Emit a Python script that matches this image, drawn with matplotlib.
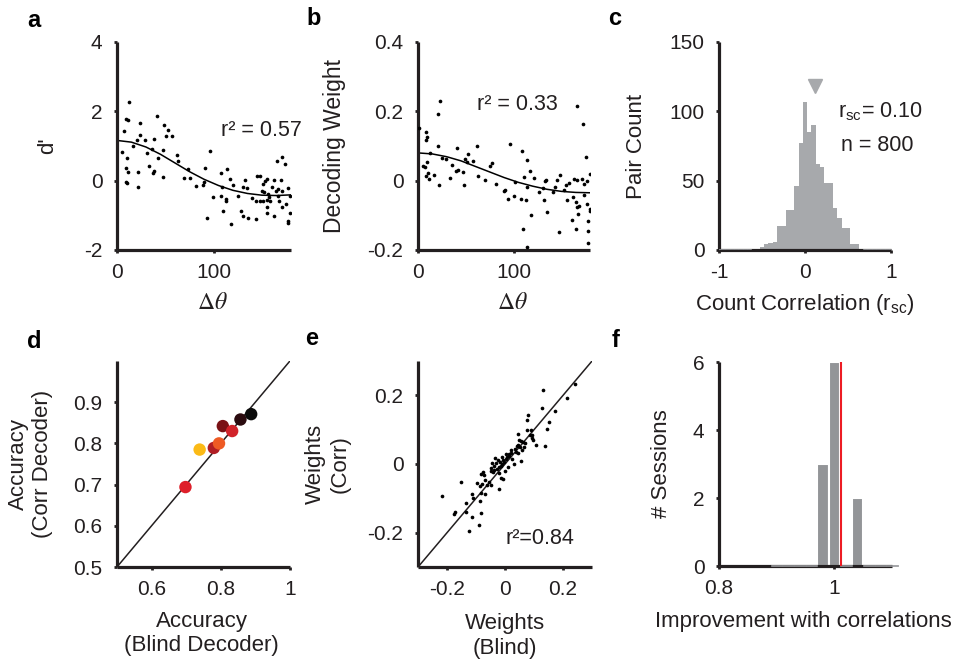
import numpy as np
import matplotlib
matplotlib.use("Agg")
import matplotlib.pyplot as plt
from matplotlib.patches import Rectangle

plt.rcParams['font.family'] = ['Liberation Sans', 'DejaVu Sans']
plt.rcParams['font.size'] = 15
plt.rcParams['axes.unicode_minus'] = False
plt.rcParams['mathtext.fontset'] = 'custom'
plt.rcParams['mathtext.rm'] = 'Liberation Sans'
plt.rcParams['mathtext.it'] = 'Liberation Sans:italic'
plt.rcParams['mathtext.bf'] = 'Liberation Sans:bold'

INK = '#231F20'
LABEL_FS = 16

# ---------------- data ----------------
# panel a: d' vs delta theta
a_theta = [12.5, 9.0, 11.1, 41.0, 24.0, 48.3, 52.4, 7.3, 50.7, 56.6, 23.6, 20.5, 29.2, 37.8,
           17.0, 36.1, 47.2, 30.6, 5.6, 42.0, 61.8, 62.8, 10.8, 33.3, 9.0, 11.1, 38.5, 36.8,
           21.9, 74.0, 90.6, 47.6, 69.8, 76.0, 95.8, 9.0, 10.8, 22.2, 81.3, 88.9, 89.9, 108.0,
           113.9, 108.7, 116.7, 120.1, 99.3, 107.3, 112.5, 112.5, 125.3, 129.9, 132.3, 134.0,
           139.9, 144.4, 147.9, 151.4, 153.1, 154.9, 149.7, 152.4, 143.4, 147.9, 151.4, 154.9,
           158.3, 155.9, 157.3, 160.1, 162.8, 164.2, 167.0, 169.4, 170.5, 165.3, 171.2, 174.0,
           166.3, 167.7, 176.7, 179.2, 174.7, 154.9, 154.9, 162.8, 170.5, 109.7, 128.8, 130.6,
           135.1, 143.8, 93.4, 117.7, 176.7, 176.7, 179.2]
a_dprime = [2.27, 1.78, 1.74, 1.86, 1.66, 1.61, 1.47, 1.43, 1.29, 1.28, 1.32, 1.18, 1.16, 1.20,
            1.01, 0.90, 0.89, 0.79, 0.82, 0.65, 0.73, 0.56, 0.65, 0.41, 0.37, 0.25, 0.29, 0.23,
            0.25, 0.33, 0.37, 0.10, 0.07, 0.07, 0.85, -0.05, -0.06, -0.19, -0.15, -0.13, -0.05, 0.21,
            0.35, -0.17, 0.04, -0.13, -0.48, -0.43, -0.54, -0.60, -0.43, -0.19, 0.02, -0.21,
            -0.50, 0.12, 0.14, -0.10, 0.00, 0.05, -0.29, -0.34, -0.58, -0.58, -0.58, -0.56,
            -0.58, -0.39, -0.48, -0.19, 0.02, -0.31, -0.24, 0.02, -0.29, 0.58, 0.68, 0.48,
            -0.43, -0.60, -0.22, -0.43, -0.68, -0.77, -0.92, -1.01, -0.77, -0.87, -0.89, -1.01,
            -1.09, -1.11, -1.08, -1.24, -1.16, -1.21, -0.92]
fit_theta = [0, 15, 30, 45, 60, 75, 90, 105, 120, 135, 150, 165, 180]
a_fit = [1.16, 1.11, 0.97, 0.76, 0.51, 0.26, 0.04, -0.14, -0.28, -0.37, -0.42, -0.43, -0.41]

# panel b: decoding weight vs delta theta
b_theta = [22.8, 20.4, 166.7, 172.6, 0.7, 8.8, 9.8, 8.8, 21.1, 40.4, 61.8, 96.5, 108.8, 114.0,
           175.4, 12.3, 24.6, 29.1, 52.6, 49.1, 51.6, 57.2, 77.2, 75.8, 9.8, 7.0, 5.3, 35.8,
           42.1, 39.3, 47.4, 10.5, 8.8, 11.2, 16.8, 33.3, 21.8, 48.1, 63.2, 70.2, 81.8, 90.5,
           89.5, 101.8, 93.7, 100.4, 108.1, 110.5, 121.1, 117.5, 114.0, 113.0, 109.5, 118.2,
           114.4, 126.3, 130.9, 134.4, 133.3, 131.6, 135.1, 141.1, 143.2, 145.6, 148.4, 147.4,
           152.6, 154.4, 157.9, 156.1, 163.2, 166.0, 171.9, 173.7, 177.2, 179.6, 162.5, 164.9,
           166.7, 168.4, 167.7, 161.4, 164.9, 176.5, 179.5, 179.6, 177.9, 177.9, 178.2, 173.7]
b_weight = [0.230, 0.191, 0.215, 0.163, 0.153, 0.139, 0.126, 0.118, 0.099, 0.095, 0.100, 0.107,
            0.086, 0.059, 0.068, 0.080, 0.066, 0.063, 0.076, 0.061, 0.054, 0.057, 0.051, 0.041,
            0.054, 0.039, 0.041, 0.044, 0.032, 0.028, 0.024, 0.022, 0.013, 0.006, 0.015, 0.009,
            -0.012, -0.014, 0.013, 0.003, -0.010, -0.026, -0.030, -0.004, -0.052, -0.044, -0.053,
            0.011, 0.008, 0.028, -0.018, -0.055, -0.140, -0.100, -0.191, -0.033, -0.020, 0.003,
            -0.001, -0.055, -0.090, -0.034, -0.018, 0.001, 0.017, -0.148, -0.028, -0.013, -0.007,
            -0.057, 0.004, 0.001, 0.005, -0.009, -0.002, 0.018, -0.047, -0.062, -0.076, -0.074,
            -0.095, -0.113, -0.139, -0.066, -0.081, -0.088, -0.117, -0.146, -0.179, -0.042]
b_fit = [0.080, 0.077, 0.069, 0.057, 0.041, 0.025, 0.009, -0.005, -0.016, -0.025, -0.031, -0.034, -0.035]

# panel c: count correlation histogram (bins of 0.05 centred on multiples of 0.05)
c_centers = [-0.60, -0.55, -0.50, -0.45, -0.40, -0.35, -0.30, -0.25, -0.20, -0.15, -0.10, -0.05,
             0.00, 0.05, 0.10, 0.15, 0.20, 0.25, 0.30, 0.35, 0.40, 0.45, 0.50, 0.55, 0.60, 0.65]
c_counts = [1, 1, 2, 4, 5, 6, 17, 17, 29, 29, 46, 77, 107, 85, 90, 62, 60, 48, 48, 30, 23, 16,
            16, 4, 4, 1]
c_empty_left = [-1.0, -0.95, -0.90, -0.85, -0.80, -0.75, -0.70, -0.65]
c_empty_right = [0.70, 0.75, 0.80, 0.85, 0.90, 0.95, 1.0]
c_mean = 0.115
c_marker_y = 118

# panel d: accuracy blind vs corr decoder
d_blind = [0.698, 0.739, 0.780, 0.795, 0.806, 0.833, 0.857, 0.888]
d_corr = [0.694, 0.785, 0.789, 0.800, 0.842, 0.830, 0.858, 0.871]
d_colors = ['#DE1F2A', '#FBBA16', '#B01E24', '#EE5A24', '#7A1216', '#D1232A', '#2B0B0F', '#0B0B0B']

# panel e: weights blind vs corr
e_blind = [0.241, 0.215, 0.132, 0.129, 0.172, 0.152, 0.144, 0.138, 0.079, 0.077, 0.046, 0.075,
           0.089, 0.094, 0.098, 0.106, 0.092, 0.048, 0.056, 0.063, 0.043, 0.052, 0.060, 0.054,
           0.037, 0.045, 0.020, 0.022, 0.014, 0.008, 0.002, -0.003, -0.012, -0.006, -0.017,
           -0.026, -0.036, -0.032, -0.044, -0.038, -0.047, -0.038, -0.049, -0.040, -0.021, -0.013,
           -0.007, -0.021, -0.055, -0.061, -0.049, -0.070, -0.078, -0.086, -0.072, -0.084, -0.075,
           -0.095, -0.153, -0.084, -0.069, -0.113, -0.110, -0.136, -0.086, -0.216, -0.172, -0.176,
           -0.124, -0.090, -0.115, -0.083, -0.133, 0.010, 0.030, -0.020, 0.000, 0.025, -0.010,
           0.035, 0.070, 0.065, 0.085, -0.028, 0.015, 0.005, -0.015, 0.040]
e_corr = [0.232, 0.191, 0.216, 0.164, 0.154, 0.122, 0.102, 0.053, 0.142, 0.127, 0.087, 0.100,
          0.098, 0.085, 0.070, 0.056, 0.077, 0.069, 0.066, 0.063, 0.056, 0.049, 0.041, 0.010,
          0.036, 0.031, 0.041, 0.031, 0.022, 0.020, 0.014, 0.007, 0.020, 0.012, 0.007,
          0.012, 0.017, 0.002, 0.002, -0.006, -0.011, -0.018, -0.020, -0.023, -0.027, -0.042,
          -0.045, -0.072, -0.052, -0.062, -0.062, -0.047, -0.057, -0.065, -0.032, -0.029, -0.023,
          -0.055, -0.052, -0.084, -0.088, -0.086, -0.098, -0.114, -0.109, -0.093, -0.140, -0.147,
          -0.194, -0.177, -0.155, -0.143, -0.140, -0.010, 0.000, -0.010, -0.020, 0.015, 0.000,
          0.045, 0.060, 0.050, 0.085, -0.015, 0.028, 0.030, -0.005, 0.052]

# panel f: improvement histogram
f_centers = [0.98, 1.00, 1.04]
f_counts = [3, 6, 2]
f_empty = [0.90, 0.92, 0.94, 0.96, 1.02, 1.06, 1.08]
f_bin_width = 0.02
f_mean = 1.011

# ---------------- figure ----------------
fig = plt.figure(figsize=(9.54, 6.62), dpi=100)

pos = {
    'a': [0.1226, 0.6224, 0.1824, 0.3142],
    'b': [0.4382, 0.6224, 0.1803, 0.3142],
    'c': [0.7537, 0.6224, 0.1803, 0.3142],
    'd': [0.1226, 0.1435, 0.1813, 0.3112],
    'e': [0.4382, 0.1435, 0.1824, 0.3112],
    'f': [0.7537, 0.1450, 0.1813, 0.3080],
}
axs = {k: fig.add_axes(v) for k, v in pos.items()}


def style(ax):
    for s in ['top', 'right']:
        ax.spines[s].set_visible(False)
    for s in ['left', 'bottom']:
        ax.spines[s].set_linewidth(2.3)
        ax.spines[s].set_color(INK)
        ax.spines[s].set_capstyle('butt')
    ax.tick_params(direction='out', length=2.5, width=2, colors=INK, labelsize=15,
                   pad=7)
    ax.tick_params(axis='y', pad=8)


DOT = 7

# panel a
ax = axs['a']
style(ax)
ax.scatter(a_theta, a_dprime, s=DOT, color='black', linewidths=0, zorder=3)
ax.plot(fit_theta, a_fit, color='black', lw=1.1)
ax.set_xlim(0, 180)
ax.set_ylim(-2, 4)
ax.set_xticks([0, 100])
ax.set_xticklabels(['0', '100'])
ax.set_yticks([-2, 0, 2, 4])
ax.set_yticklabels(['-2', '0', '2', '4'])
ax.set_ylabel("d'", color=INK, fontsize=LABEL_FS)
ax.yaxis.set_label_coords(-0.34, 0.5)
ax.set_xlabel(r'$\Delta\theta$', color=INK, math_fontfamily='stix', fontsize=17)
ax.xaxis.set_label_coords(0.55, -0.2)
ax.text(0.6, 0.55, 'r² = 0.57', transform=ax.transAxes, color=INK, fontsize=15.5)

# panel b
ax = axs['b']
style(ax)
ax.scatter(b_theta, b_weight, s=DOT, color='black', linewidths=0, zorder=3)
ax.plot(fit_theta, b_fit, color='black', lw=1.1)
ax.set_xlim(0, 180)
ax.set_ylim(-0.2, 0.4)
ax.set_xticks([0, 100])
ax.set_xticklabels(['0', '100'])
ax.set_yticks([-0.2, 0, 0.2, 0.4])
ax.set_yticklabels(['-0.2', '0', '0.2', '0.4'])
ax.set_ylabel('Decoding Weight', color=INK, fontsize=LABEL_FS + 0.5)
ax.yaxis.set_label_coords(-0.42, 0.5)
ax.set_xlabel(r'$\Delta\theta$', color=INK, math_fontfamily='stix', fontsize=17)
ax.xaxis.set_label_coords(0.55, -0.2)
ax.text(0.345, 0.675, 'r² = 0.33', transform=ax.transAxes, color=INK, fontsize=15.5)

# panel c
ax = axs['c']
style(ax)
ax.bar(c_centers, c_counts, width=0.05, color='#A7A9AC', edgecolor='none', zorder=2)
for cx in c_empty_left + c_empty_right:
    ax.add_patch(Rectangle((cx - 0.025, 0), 0.05, 0.9, facecolor='white',
                           edgecolor='#808285', lw=0.5, zorder=3, clip_on=True))
ax.plot([c_mean], [c_marker_y], marker='v', markersize=10, color='#A7A9AC',
        linestyle='none', zorder=3)
ax.set_xlim(-1, 1)
ax.set_ylim(0, 150)
ax.set_xticks([-1, 0, 1])
ax.set_xticklabels(['-1', '0', '1'])
ax.set_yticks([0, 50, 100, 150])
ax.set_yticklabels(['0', '50', '100', '150'])
ax.set_ylabel('Pair Count', color=INK, fontsize=LABEL_FS)
ax.yaxis.set_label_coords(-0.42, 0.5)
ax.set_xlabel(r'Count Correlation (r$_{\mathrm{sc}}$)', color=INK, fontsize=LABEL_FS)
ax.xaxis.set_label_coords(0.5, -0.2)
ax.text(0.69, 0.635, r'r$_{\mathrm{sc}}$= 0.10', transform=ax.transAxes, color=INK, fontsize=15.5)
ax.text(0.71, 0.475, 'n = 800', transform=ax.transAxes, color=INK, fontsize=15.5)

# panel d
ax = axs['d']
style(ax)
ax.plot([0.5, 1.0], [0.5, 1.0], color=INK, lw=1.1, zorder=2)
ax.scatter(d_blind, d_corr, s=80, c=d_colors, linewidths=0, zorder=3)
ax.set_xlim(0.5, 1.0)
ax.set_ylim(0.5, 1.0)
ax.set_xticks([0.6, 0.8, 1.0])
ax.set_xticklabels(['0.6', '0.8', '1'])
ax.set_yticks([0.5, 0.6, 0.7, 0.8, 0.9])
ax.set_yticklabels(['0.5', '0.6', '0.7', '0.8', '0.9'])
ax.set_ylabel('Accuracy\n(Corr Decoder)', color=INK, linespacing=1.2, fontsize=LABEL_FS)
ax.yaxis.set_label_coords(-0.37, 0.5)
ax.set_xlabel('Accuracy\n(Blind Decoder)', color=INK, linespacing=1.2, fontsize=LABEL_FS)
ax.xaxis.set_label_coords(0.49, -0.215)

# panel e
ax = axs['e']
style(ax)
ax.plot([-0.3, 0.3], [-0.3, 0.3], color=INK, lw=1.1, zorder=2)
ax.scatter(e_blind, e_corr, s=DOT, color='black', linewidths=0, zorder=3)
ax.set_xlim(-0.3, 0.3)
ax.set_ylim(-0.3, 0.3)
ax.set_xticks([-0.2, 0, 0.2])
ax.set_xticklabels(['-0.2', '0', '0.2'])
ax.set_yticks([-0.2, 0, 0.2])
ax.set_yticklabels(['-0.2', '0', '0.2'])
ax.set_ylabel('Weights\n(Corr)', color=INK, linespacing=1.2, fontsize=LABEL_FS)
ax.yaxis.set_label_coords(-0.39, 0.5)
ax.set_xlabel('Weights\n(Blind)', color=INK, linespacing=1.2, fontsize=LABEL_FS)
ax.xaxis.set_label_coords(0.5, -0.225)
ax.text(0.5, 0.11, 'r²=0.84', transform=ax.transAxes, color=INK, fontsize=15.5)

# panel f
ax = axs['f']
style(ax)
ax.bar(f_centers, f_counts, width=f_bin_width, color='#939598', edgecolor='white',
       linewidth=1.5, zorder=2)
for fx in f_empty + [1.10]:
    ax.add_patch(Rectangle((fx - f_bin_width / 2, 0), f_bin_width, 0.04, facecolor='white',
                           edgecolor='#808285', lw=0.5, zorder=3, clip_on=False))
ax.axvline(f_mean, ymin=0, ymax=1, color='#ED1C24', lw=1.5, zorder=4)
ax.set_xlim(0.8, 1.1)
ax.set_ylim(0, 6)
ax.set_xticks([0.8, 1.0])
ax.set_xticklabels(['0.8', '1'])
ax.set_yticks([0, 2, 4, 6])
ax.set_yticklabels(['0', '2', '4', '6'])
ax.set_ylabel('# Sessions', color=INK, fontsize=LABEL_FS)
ax.yaxis.set_label_coords(-0.27, 0.5)
ax.set_xlabel('Improvement with correlations', color=INK, fontsize=LABEL_FS)
ax.xaxis.set_label_coords(0.486, -0.22)

# panel letters
letters = [('a', 27, 27), ('b', 306, 25), ('c', 608, 25),
           ('d', 27, 348), ('e', 305, 345), ('f', 612, 347)]
for t, px, py in letters:
    fig.text(px / 954, 1 - py / 662, t, fontsize=17, fontweight='bold', color='black',
             ha='left', va='baseline')

fig.savefig('out.png', dpi=100)
